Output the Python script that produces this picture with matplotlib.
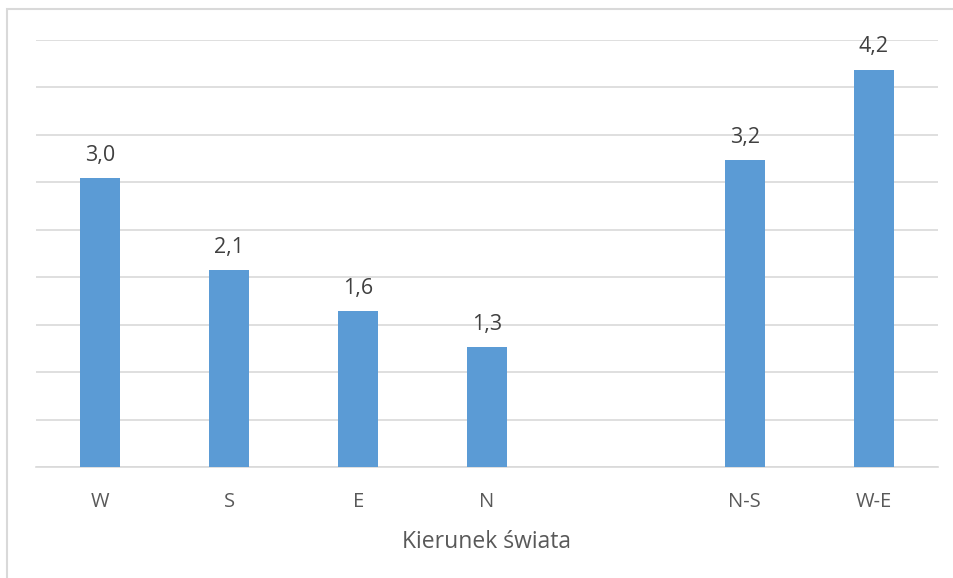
import matplotlib.pyplot as plt
import matplotlib.patches as mpatches
import numpy as np

# dane
categories = ['W', 'S', 'E', 'N', '', 'N-S', 'W-E']
values = [3.04, 2.07, 1.64, 1.26, None, 3.23, 4.18]

plt.rcParams['font.family'] = ['Open Sans', 'DejaVu Sans']

fig = plt.figure(figsize=(9.54, 5.78), dpi=100)
ax = fig.add_axes([36 / 954, 1 - 467 / 578, 902 / 954, (467 - 39.5) / 578])

index = np.arange(len(categories))
pos = [i for i, v in zip(index, values) if v is not None]
vals = [v for v in values if v is not None]

bars = ax.bar(pos, vals, 0.31, color='#5b9bd5', zorder=3)

# wartości nad słupkami
for bar in bars:
    h = bar.get_height()
    ax.annotate(f'{h:.1f}'.replace('.', ','),
                xy=(bar.get_x() + bar.get_width() / 2, h),
                xytext=(0, 9), textcoords='offset points',
                ha='center', va='bottom', fontsize=15.5, color='#404040')

ax.set_xlim(-0.5, len(categories) - 0.5)
ax.set_ylim(0, 4.5)
ax.set_yticks(np.arange(0, 4.51, 0.5))
ax.set_yticklabels([])
ax.tick_params(axis='y', length=0)
ax.grid(axis='y', color='#d9d9d9', linewidth=1.2, zorder=0)

ax.set_xticks(index)
ax.set_xticklabels(categories, fontsize=14.5, color='#595959')
ax.tick_params(axis='x', length=0, pad=18)
ax.set_xlabel('Kierunek świata', fontsize=16.5, color='#595959', labelpad=13)

for s in ['top', 'right', 'left']:
    ax.spines[s].set_visible(False)
ax.spines['bottom'].set_color('#d9d9d9')
ax.spines['bottom'].set_linewidth(1.2)

# ramka wykresu
frame = mpatches.Rectangle((7 / 954, -0.5), 2, 1.5 - 9 / 578, transform=fig.transFigure,
                           fill=False, edgecolor='#d9d9d9', linewidth=1.5)
fig.patches.append(frame)

fig.savefig('out.png', dpi=100)
